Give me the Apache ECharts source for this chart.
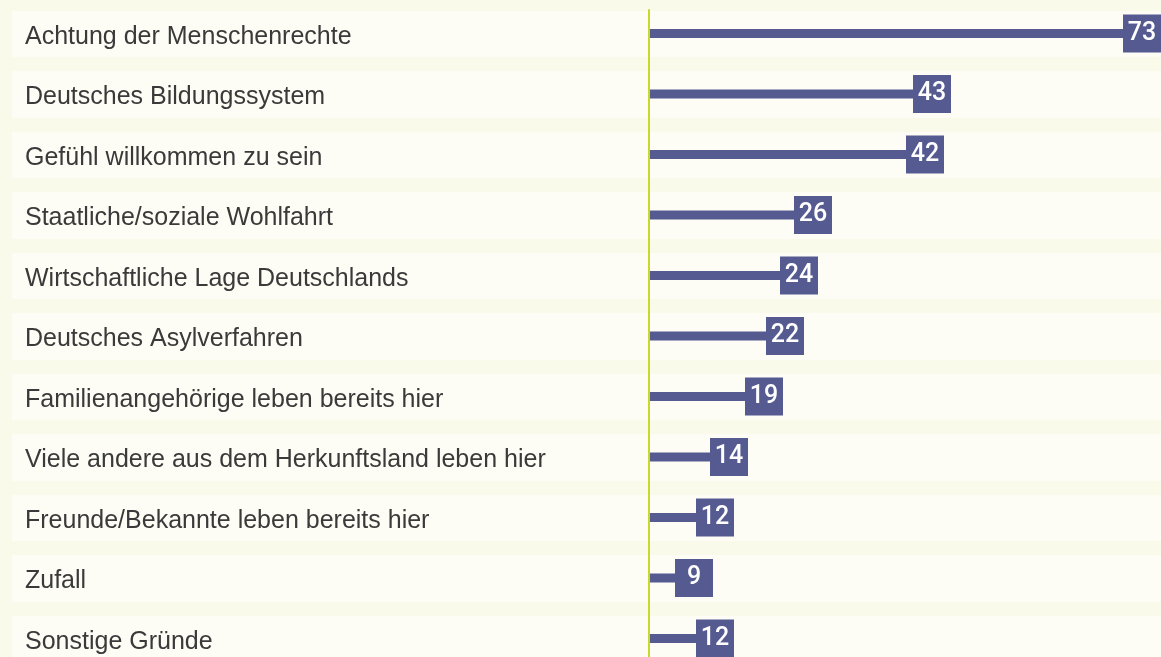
<!DOCTYPE html>
<html>
<head>
<meta charset="utf-8">
<script src="https://cdn.jsdelivr.net/npm/echarts@6/dist/echarts.min.js"></script>
<style>
  html, body { margin: 0; padding: 0; background: #f9faea; }
  #chart { width: 1161px; height: 657px; }
</style>
</head>
<body>
<div id="chart"></div>
<script>
var categories = [
    'Achtung der Menschenrechte',
    'Deutsches Bildungssystem',
    'Gefühl willkommen zu sein',
    'Staatliche/soziale Wohlfahrt',
    'Wirtschaftliche Lage Deutschlands',
    'Deutsches Asylverfahren',
    'Familienangehörige leben bereits hier',
    'Viele andere aus dem Herkunftsland leben hier',
    'Freunde/Bekannte leben bereits hier',
    'Zufall',
    'Sonstige Gründe'
];
var values = [73, 43, 42, 26, 24, 22, 19, 14, 12, 9, 12];

var outerColor = '#f9faea';
var bandColor = '#fdfdf5';
var barColor = '#555b91';

var myChart = echarts.init(document.getElementById('chart'));

var option = {
    backgroundColor: outerColor,
    animation: false,
    grid: [
        // Zeilenbänder + Beschriftung
        { left: 12, right: 0, top: 3.25, height: 665.5, outerBoundsMode: 'none', show: true, backgroundColor: bandColor, borderWidth: 0 },
        // Balken
        { left: 650, right: 0, top: 3.25, height: 665.5, outerBoundsMode: 'none' },
        // grüne Linie
        { left: 649, right: 0, top: 10, bottom: 0, outerBoundsMode: 'none' }
    ],
    xAxis: [
        { gridIndex: 0, type: 'value', show: false },
        { gridIndex: 1, type: 'value', min: 0, max: 73, show: false },
        { gridIndex: 2, type: 'value', show: false }
    ],
    yAxis: [
        {
            gridIndex: 0,
            type: 'category',
            inverse: true,
            data: categories,
            axisLine: { show: false },
            axisTick: { show: false },
            axisLabel: {
                inside: true,
                margin: 13,
                color: '#3a3a3a',
                fontSize: 25,
                fontFamily: 'Liberation Sans',
                verticalAlign: 'top',
                lineHeight: 7
            },
            splitLine: {
                show: true,
                interval: 0,
                lineStyle: { color: outerColor, width: 14 }
            }
        },
        {
            gridIndex: 1,
            type: 'category',
            inverse: true,
            data: categories,
            show: false
        },
        {
            gridIndex: 2,
            type: 'category',
            data: [''],
            axisLine: { show: true, lineStyle: { color: '#c6d92c', width: 2 } },
            axisTick: { show: false },
            axisLabel: { show: false }
        }
    ],
    series: [
        {
            type: 'bar',
            xAxisIndex: 1,
            yAxisIndex: 1,
            barWidth: 9,
            itemStyle: { color: barColor },
            label: {
                show: true,
                position: 'insideRight',
                distance: 0,
                offset: [-19, 0],
                backgroundColor: barColor,
                color: '#ffffff',
                fontSize: 25,
                fontWeight: 500,
                fontFamily: 'Roboto',
                width: 38,
                height: 38,
                lineHeight: 38,
                align: 'center',
                padding: 0
            },
            data: values
        }
    ]
};

myChart.setOption(option, true);
</script>
</body>
</html>
